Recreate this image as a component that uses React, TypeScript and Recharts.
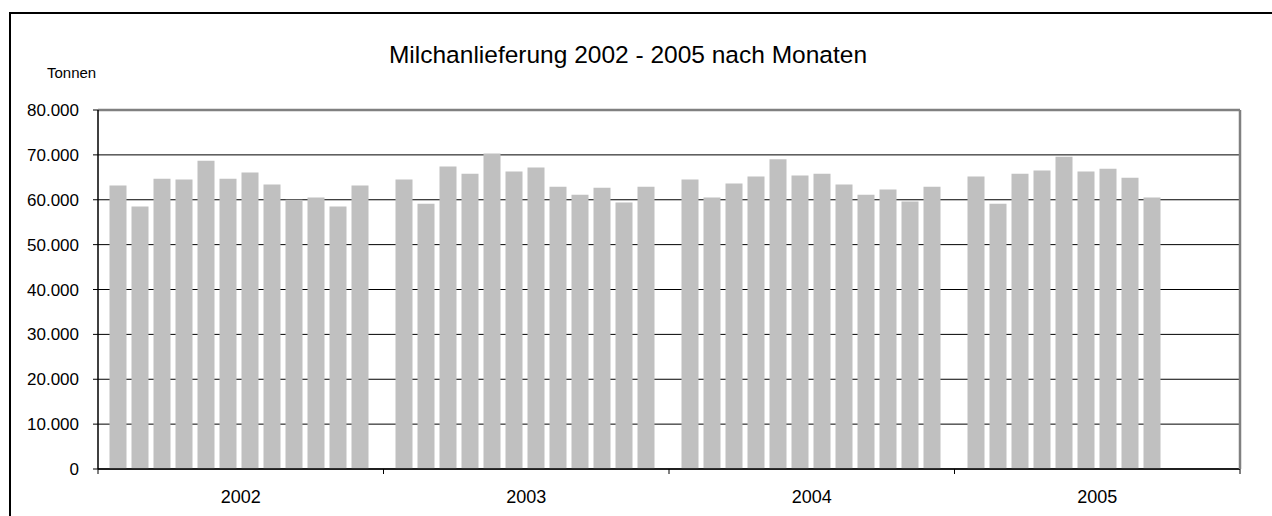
import { BarChart, Bar, XAxis, YAxis, CartesianGrid } from 'recharts';

// Milchanlieferung in Tonnen, Jan..Dez (2005 nur bis September)
const YEARS = ['2002', '2003', '2004', '2005'];
const MONTHS = ['Jan', 'Feb', 'Mär', 'Apr', 'Mai', 'Jun', 'Jul', 'Aug', 'Sep', 'Okt', 'Nov', 'Dez'];
const MILK_2002 = [63200, 58500, 64700, 64500, 68700, 64700, 66100, 63400, 60000, 60500, 58500, 63200];
const MILK_2003 = [64500, 59100, 67400, 65800, 70300, 66300, 67200, 62900, 61100, 62700, 59400, 62900];
const MILK_2004 = [64500, 60500, 63600, 65200, 69000, 65400, 65800, 63400, 61100, 62300, 59600, 62900];
const MILK_2005 = [65200, 59100, 65800, 66500, 69600, 66300, 66900, 64900, 60500];
const Y_TICKS = [0, 10000, 20000, 30000, 40000, 50000, 60000, 70000, 80000];

const SERIES = [MILK_2002, MILK_2003, MILK_2004, MILK_2005];

// one slot per month, plus an empty slot between years
const rows: { key: string; year: string; value: number | null }[] = [];
YEARS.forEach((year, yi) => {
  MONTHS.forEach((m, mi) => {
    rows.push({ key: `${year}-${m}`, year, value: SERIES[yi][mi] ?? null });
  });
  if (yi < YEARS.length - 1) rows.push({ key: `${year}-gap`, year, value: null });
});

const FONT = '"Liberation Sans", Arial, sans-serif';
const HALF_YEAR = 142.75; // half of one year's band on the axis

const fmt = (v: number) => v.toString().replace(/\B(?=(\d{3})+(?!\d))/g, '.');

const YearTick = (props: any) => {
  const { x, y, payload, index } = props;
  const last = index === YEARS.length - 1;
  return (
    <g>
      <line x1={x - HALF_YEAR} x2={x - HALF_YEAR} y1={y} y2={y + 5} stroke="#000" />
      {last && <line x1={x + HALF_YEAR} x2={x + HALF_YEAR} y1={y} y2={y + 5} stroke="#000" />}
      <text x={x} y={y + 28} textAnchor="middle" dominantBaseline="central" fontSize={18} fill="#000" fontFamily={FONT}>
        {payload.value}
      </text>
    </g>
  );
};

export default function App() {
  return (
    <div style={{ position: 'fixed', left: 0, top: 0, width: 1272, height: 516, overflow: 'hidden', background: '#fff', fontFamily: FONT }}>
      <div style={{ position: 'absolute', left: 9, top: 12, width: 1300, height: 600, border: '2px solid #000' }} />
      <div style={{ position: 'absolute', left: 0, width: 1256, top: 40, textAlign: 'center', fontSize: 24.5, lineHeight: '30px', color: '#000' }}>
        Milchanlieferung 2002 - 2005 nach Monaten
      </div>
      <div style={{ position: 'absolute', left: 47, top: 64, fontSize: 15, lineHeight: '18px', color: '#000' }}>Tonnen</div>
      <BarChart width={1272} height={516} data={rows} margin={{ top: 109, right: 31, bottom: 7, left: 18 }}>
        <CartesianGrid vertical={false} stroke="#000" horizontalValues={Y_TICKS.slice(0, -1)} />
        <XAxis dataKey="key" hide height={0} padding={{ left: 8.5, right: 11.5 }} />
        <XAxis
          xAxisId="yr"
          dataKey="year"
          allowDuplicatedCategory={false}
          interval={0}
          height={40}
          tickSize={0}
          tickMargin={0}
          tickLine={false}
          axisLine={{ stroke: '#000', strokeWidth: 1.5 }}
          tick={<YearTick />}
        />
        <XAxis
          xAxisId="top"
          orientation="top"
          dataKey="key"
          height={1}
          tick={false}
          tickLine={false}
          axisLine={{ stroke: '#808080', strokeWidth: 2.5 }}
        />
        <YAxis
          width={80}
          domain={[0, 80000]}
          ticks={Y_TICKS}
          interval={0}
          tickFormatter={fmt}
          tickSize={5}
          tickMargin={14}
          axisLine={{ stroke: '#000', strokeWidth: 1.5 }}
          tickLine={{ stroke: '#000' }}
          tick={{ fill: '#000', fontSize: 17, fontFamily: FONT }}
        />
        <YAxis
          yAxisId="right"
          orientation="right"
          width={1}
          domain={[0, 80000]}
          tick={false}
          tickLine={false}
          axisLine={{ stroke: '#808080', strokeWidth: 2.5 }}
        />
        <Bar dataKey="value" fill="#C0C0C0" barSize={17} isAnimationActive={false} />
      </BarChart>
    </div>
  );
}
